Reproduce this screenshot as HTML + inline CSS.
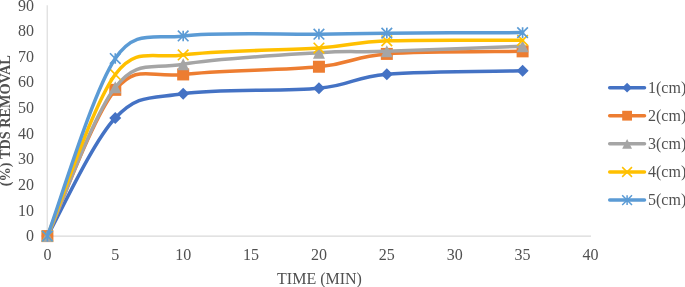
<!DOCTYPE html><html><head><meta charset="utf-8"><style>html,body{margin:0;padding:0;background:#fff}svg{display:block}text{font-family:"Liberation Serif",serif;fill:#505050}</style></head><body>
<svg width="685" height="287" viewBox="0 0 685 287">
<rect width="685" height="287" fill="#fff"/>
<path d="M47.20 5.16 V236.10" stroke="#D9D9D9" stroke-width="1.1" fill="none"/>
<path d="M47.20 236.00 H590.98" stroke="#D9D9D9" stroke-width="1.25" fill="none"/>
<text x="34" y="241.35" font-size="16" text-anchor="end">0</text>
<text x="34" y="215.69" font-size="16" text-anchor="end">10</text>
<text x="34" y="190.03" font-size="16" text-anchor="end">20</text>
<text x="34" y="164.37" font-size="16" text-anchor="end">30</text>
<text x="34" y="138.71" font-size="16" text-anchor="end">40</text>
<text x="34" y="113.05" font-size="16" text-anchor="end">50</text>
<text x="34" y="87.39" font-size="16" text-anchor="end">60</text>
<text x="34" y="61.73" font-size="16" text-anchor="end">70</text>
<text x="34" y="36.07" font-size="16" text-anchor="end">80</text>
<text x="34" y="11.31" font-size="16" text-anchor="end">90</text>
<text x="47.40" y="260.1" font-size="16" text-anchor="middle">0</text>
<text x="115.28" y="260.1" font-size="16" text-anchor="middle">5</text>
<text x="183.17" y="260.1" font-size="16" text-anchor="middle">10</text>
<text x="251.06" y="260.1" font-size="16" text-anchor="middle">15</text>
<text x="318.94" y="260.1" font-size="16" text-anchor="middle">20</text>
<text x="386.82" y="260.1" font-size="16" text-anchor="middle">25</text>
<text x="454.71" y="260.1" font-size="16" text-anchor="middle">30</text>
<text x="522.60" y="260.1" font-size="16" text-anchor="middle">35</text>
<text x="590.48" y="260.1" font-size="16" text-anchor="middle">40</text>
<text x="319.5" y="283.5" font-size="16" text-anchor="middle">TIME (MIN)</text>
<text transform="translate(9.9 120.7) rotate(-90)" font-size="14.25" font-weight="bold" text-anchor="middle">(%) TDS REMOVAL</text>
<path d="M47.40 236.10 C58.71 216.43 92.66 141.80 115.28 118.06 C137.91 94.33 149.23 98.65 183.17 93.69 C217.11 88.73 285.00 91.55 318.94 88.30 C352.88 85.05 352.88 77.09 386.82 74.19 C420.77 71.28 499.97 71.41 522.60 70.85" stroke="#4472C4" stroke-width="3.5" fill="none" stroke-linecap="round" stroke-linejoin="round"/>
<path d="M41.40 236.10 L47.40 230.10 L53.40 236.10 L47.40 242.10Z" fill="#4472C4"/>
<path d="M109.28 118.06 L115.28 112.06 L121.28 118.06 L115.28 124.06Z" fill="#4472C4"/>
<path d="M177.17 93.69 L183.17 87.69 L189.17 93.69 L183.17 99.69Z" fill="#4472C4"/>
<path d="M312.94 88.30 L318.94 82.30 L324.94 88.30 L318.94 94.30Z" fill="#4472C4"/>
<path d="M380.82 74.19 L386.82 68.19 L392.82 74.19 L386.82 80.19Z" fill="#4472C4"/>
<path d="M516.60 70.85 L522.60 64.85 L528.60 70.85 L522.60 76.85Z" fill="#4472C4"/>
<path d="M47.40 236.10 C58.71 211.72 92.66 116.78 115.28 89.84 C137.67 63.19 149.59 78.25 183.17 74.44 C217.11 70.59 285.00 70.17 318.94 66.74 C352.88 63.32 352.88 56.48 386.82 53.91 C420.77 51.35 499.97 51.78 522.60 51.35" stroke="#ED7D31" stroke-width="3.5" fill="none" stroke-linecap="round" stroke-linejoin="round"/>
<rect x="41.40" y="230.10" width="12.00" height="12.00" fill="#ED7D31"/>
<rect x="109.28" y="83.84" width="12.00" height="12.00" fill="#ED7D31"/>
<rect x="177.17" y="68.44" width="12.00" height="12.00" fill="#ED7D31"/>
<rect x="312.94" y="60.74" width="12.00" height="12.00" fill="#ED7D31"/>
<rect x="380.82" y="47.91" width="12.00" height="12.00" fill="#ED7D31"/>
<rect x="516.60" y="45.35" width="12.00" height="12.00" fill="#ED7D31"/>
<path d="M47.40 236.10 C58.71 211.30 92.66 115.93 115.28 87.27 C137.51 59.14 149.84 69.85 183.17 64.18 C217.11 58.40 285.00 54.77 318.94 52.63 C352.82 50.50 352.89 52.42 386.82 51.35 C420.77 50.28 499.97 47.07 522.60 46.22" stroke="#A5A5A5" stroke-width="3.5" fill="none" stroke-linecap="round" stroke-linejoin="round"/>
<path d="M47.40 230.10 L53.40 242.10 L41.40 242.10Z" fill="#A5A5A5"/>
<path d="M115.28 81.27 L121.28 93.27 L109.28 93.27Z" fill="#A5A5A5"/>
<path d="M183.17 58.18 L189.17 70.18 L177.17 70.18Z" fill="#A5A5A5"/>
<path d="M318.94 46.63 L324.94 58.63 L312.94 58.63Z" fill="#A5A5A5"/>
<path d="M386.82 45.35 L392.82 57.35 L380.82 57.35Z" fill="#A5A5A5"/>
<path d="M522.60 40.22 L528.60 52.22 L516.60 52.22Z" fill="#A5A5A5"/>
<path d="M47.40 236.10 C58.71 209.16 92.66 104.64 115.28 74.44 C136.46 46.18 151.40 59.06 183.17 54.94 C217.11 50.54 285.00 50.36 318.94 48.01 C352.88 45.66 352.88 42.11 386.82 40.83 C420.77 39.54 499.97 40.40 522.60 40.31" stroke="#FFC000" stroke-width="3.5" fill="none" stroke-linecap="round" stroke-linejoin="round"/>
<path d="M42.10 230.80 L52.70 241.40 M42.10 241.40 L52.70 230.80" stroke="#FFC000" stroke-width="1.65" fill="none"/>
<path d="M109.98 69.14 L120.58 79.74 M109.98 79.74 L120.58 69.14" stroke="#FFC000" stroke-width="1.65" fill="none"/>
<path d="M177.87 49.64 L188.47 60.24 M177.87 60.24 L188.47 49.64" stroke="#FFC000" stroke-width="1.65" fill="none"/>
<path d="M313.64 42.71 L324.24 53.31 M313.64 53.31 L324.24 42.71" stroke="#FFC000" stroke-width="1.65" fill="none"/>
<path d="M381.52 35.53 L392.12 46.13 M381.52 46.13 L392.12 35.53" stroke="#FFC000" stroke-width="1.65" fill="none"/>
<path d="M517.30 35.01 L527.89 45.61 M517.30 45.61 L527.89 35.01" stroke="#FFC000" stroke-width="1.65" fill="none"/>
<path d="M47.40 236.10 C58.71 206.51 92.66 91.89 115.28 58.53 C135.37 28.93 153.05 39.56 183.17 35.95 C217.11 31.89 285.00 34.63 318.94 34.16 C352.88 33.69 352.88 33.39 386.82 33.13 C420.77 32.87 499.97 32.70 522.60 32.62" stroke="#5B9BD5" stroke-width="3.5" fill="none" stroke-linecap="round" stroke-linejoin="round"/>
<path d="M42.10 230.80 L52.70 241.40 M42.10 241.40 L52.70 230.80 M47.40 230.80 L47.40 241.40" stroke="#5B9BD5" stroke-width="1.65" fill="none"/>
<path d="M109.98 53.23 L120.58 63.83 M109.98 63.83 L120.58 53.23 M115.28 53.23 L115.28 63.83" stroke="#5B9BD5" stroke-width="1.65" fill="none"/>
<path d="M177.87 30.65 L188.47 41.25 M177.87 41.25 L188.47 30.65 M183.17 30.65 L183.17 41.25" stroke="#5B9BD5" stroke-width="1.65" fill="none"/>
<path d="M313.64 28.86 L324.24 39.46 M313.64 39.46 L324.24 28.86 M318.94 28.86 L318.94 39.46" stroke="#5B9BD5" stroke-width="1.65" fill="none"/>
<path d="M381.52 27.83 L392.12 38.43 M381.52 38.43 L392.12 27.83 M386.82 27.83 L386.82 38.43" stroke="#5B9BD5" stroke-width="1.65" fill="none"/>
<path d="M517.30 27.32 L527.89 37.92 M517.30 37.92 L527.89 27.32 M522.60 27.32 L522.60 37.92" stroke="#5B9BD5" stroke-width="1.65" fill="none"/>
<path d="M609.7 87.70 H644.5" stroke="#4472C4" stroke-width="3.5" stroke-linecap="round"/>
<path d="M622.20 87.70 L627.10 82.80 L632.00 87.70 L627.10 92.60Z" fill="#4472C4"/>
<text x="648.0" y="92.80" font-size="16">1(cm)</text>
<path d="M609.7 115.70 H644.5" stroke="#ED7D31" stroke-width="3.5" stroke-linecap="round"/>
<rect x="622.20" y="110.80" width="9.80" height="9.80" fill="#ED7D31"/>
<text x="648.0" y="120.80" font-size="16">2(cm)</text>
<path d="M609.7 143.80 H644.5" stroke="#A5A5A5" stroke-width="3.5" stroke-linecap="round"/>
<path d="M627.10 138.90 L632.00 148.70 L622.20 148.70Z" fill="#A5A5A5"/>
<text x="648.0" y="148.90" font-size="16">3(cm)</text>
<path d="M609.7 172.00 H644.5" stroke="#FFC000" stroke-width="3.5" stroke-linecap="round"/>
<path d="M622.20 167.10 L632.00 176.90 M622.20 176.90 L632.00 167.10" stroke="#FFC000" stroke-width="1.50" fill="none"/>
<text x="648.0" y="177.10" font-size="16">4(cm)</text>
<path d="M609.7 200.10 H644.5" stroke="#5B9BD5" stroke-width="3.5" stroke-linecap="round"/>
<path d="M622.20 195.20 L632.00 205.00 M622.20 205.00 L632.00 195.20 M627.10 195.20 L627.10 205.00" stroke="#5B9BD5" stroke-width="1.50" fill="none"/>
<text x="648.0" y="205.20" font-size="16">5(cm)</text>
</svg></body></html>
